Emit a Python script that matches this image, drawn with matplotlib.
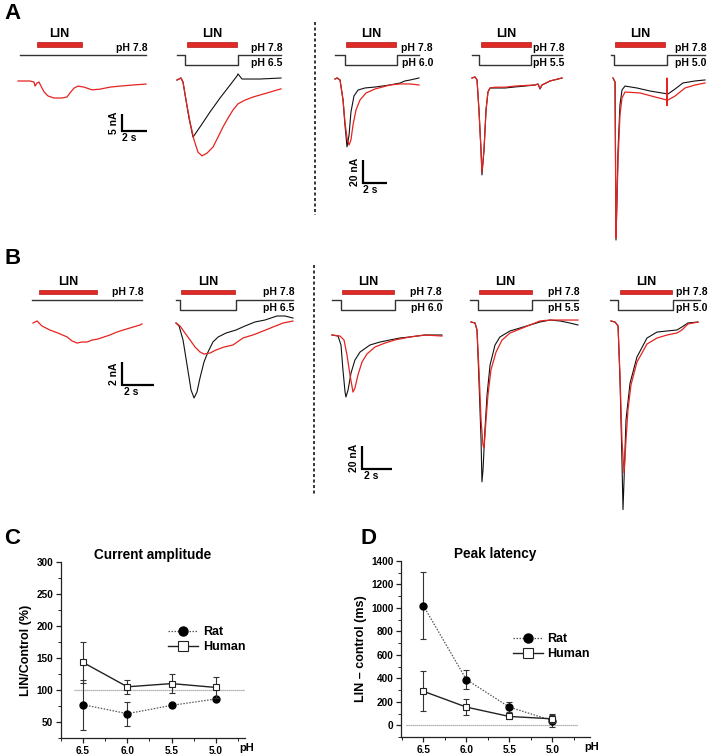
import matplotlib
matplotlib.use('Agg')
import matplotlib.pyplot as plt
from matplotlib.lines import Line2D
from matplotlib.patches import Rectangle

plt.rcParams['font.family'] = ['Liberation Sans', 'DejaVu Sans']
plt.rcParams['font.weight'] = 'bold'

W, H = 709, 755
fig = plt.figure(figsize=(W / 100, H / 100), dpi=100)

RED = '#e5231f'
BLACK = '#111111'
BAR_RED = '#e02a26'

# ===================== DATA =====================
# ---- Panel C: current amplitude (LIN/Control, %) ----
ph_levels = [6.5, 6.0, 5.5, 5.0]
ph_ticks = ['6.5', '6.0', '5.5', '5.0']
amp_rat = [77, 63, 76, 86]
amp_rat_err = [39, 19, 3, 2]
amp_human = [143, 105, 110, 104]
amp_human_err = [32, 11, 15, 17]
# ---- Panel D: peak latency (LIN - control, ms) ----
lat_rat = [1020, 390, 155, 40]
lat_rat_err = [285, 80, 40, 55]
lat_human = [290, 155, 75, 55]
lat_human_err = [170, 70, 25, 35]

# ---- Traces (time in s, current in nA) ----
# Row A (rat)
A1_red_t = [0, 0.96, 1.28, 1.36, 1.52, 1.68, 1.84, 2.08, 2.4, 2.88, 3.52, 3.92, 4.16, 4.48, 4.8, 5.28, 5.92, 6.56, 7.36, 8.16, 9.12, 10.24]
A1_red_i = [0, 0, -0.3, -1.5, -0.6, -0.3, -1.5, -3.2, -4.4, -5.0, -5.0, -4.7, -3.5, -2.1, -1.5, -1.8, -2.6, -2.4, -1.8, -1.5, -1.2, -0.9]

A2_blk_t = [0, 0.32, 0.48, 0.72, 0.96, 1.28, 1.84, 2.64, 3.44, 4.24, 4.8, 4.88, 5.2, 6.64, 8.32]
A2_blk_i = [-0.6, 0, -1.2, -6.5, -11.8, -17.4, -14.4, -10.0, -5.9, -2.1, 0.6, 1.2, -0.3, -0.3, 0]
A2_red_t = [0, 0.32, 0.48, 0.72, 1.04, 1.36, 1.68, 2.0, 2.4, 2.88, 3.28, 3.68, 4.08, 4.48, 4.88, 5.44, 6.08, 7.2, 8.32]
A2_red_i = [-0.6, 0, -1.2, -6.5, -12.9, -18.2, -21.8, -22.9, -22.1, -20.3, -17.4, -14.4, -11.8, -9.4, -7.6, -6.5, -5.6, -4.4, -3.2]

A3_blk_t = [0, 0.17, 0.42, 0.67, 0.83, 1.0, 1.17, 1.33, 1.58, 1.92, 2.5, 3.33, 4.58, 5.42, 5.83, 6.25, 7.0]
A3_blk_i = [0, 0.9, -0.9, -18.3, -40, -59, -48.7, -28.7, -14.8, -9.6, -7.8, -7.0, -5.2, -3.5, -1.7, -0.9, 0.9]
A3_red_t = [0, 0.17, 0.42, 0.67, 0.83, 1.0, 1.17, 1.33, 1.5, 1.75, 2.08, 2.58, 3.33, 4.58, 5.42, 6.25, 7.0]
A3_red_i = [0, 0.9, -0.9, -18.3, -37.4, -51.3, -57.4, -53, -40, -27, -18.3, -12.2, -8.7, -5.2, -4.3, -4.3, -5.2]

A4_t = [0, 0.25, 0.42, 0.58, 0.75, 0.83, 1.0, 1.17, 1.33, 1.5, 1.92, 2.75, 3.58, 4.42, 5.25, 5.5, 5.67, 5.83, 6.5, 7.5]
A4_blk_i = [0, 0.9, -1.7, -27.8, -62.6, -84.3, -62.6, -27.8, -12.2, -8.7, -8.7, -8.7, -7.8, -7.0, -6.1, -5.2, -9.6, -6.1, -2.6, 0]
A4_red_i = [0, 0.9, -1.7, -27.8, -62.6, -82.0, -62.6, -27.8, -12.2, -8.7, -8.0, -8.0, -7.0, -6.5, -6.1, -5.2, -9.2, -6.1, -2.6, 0]

A5_blk_t = [0, 0.17, 0.25, 0.33, 0.42, 0.58, 0.75, 1.0, 2.0, 3.08, 4.58, 5.17, 5.83, 6.83, 7.67]
A5_blk_i = [0, -3.5, -140.9, -106, -62.6, -23.5, -10.4, -7.0, -8.7, -11.3, -13.9, -9.6, -4.3, -2.6, -1.7]
A5_red_t = [0, 0.17, 0.25, 0.33, 0.42, 0.58, 0.75, 1.0, 2.25, 3.5, 4.48, 4.5, 4.5, 4.52, 5.17, 6.0, 6.83, 7.67]
A5_red_i = [0, -3.5, -139, -106, -71.3, -32.2, -17.4, -12.2, -13.0, -16.5, -19.1, 0, -24, -19.5, -15.7, -8.7, -6.1, -4.3]

# Row B (human)
B1_red_t = [0, 0.25, 0.56, 1.06, 1.56, 2.13, 2.44, 2.75, 3.06, 3.38, 3.69, 4.06, 4.44, 4.81, 5.25, 5.63, 6.06, 6.69, 6.81]
B1_red_i = [-0.09, 0.09, -0.35, -0.7, -0.96, -1.3, -1.65, -1.83, -1.74, -1.74, -1.57, -1.48, -1.3, -1.13, -0.87, -0.7, -0.52, -0.26, -0.17]

B2_blk_t = [0, 0.19, 0.44, 0.69, 0.94, 1.13, 1.31, 1.5, 1.75, 2.0, 2.31, 2.63, 3.13, 3.75, 4.31, 4.94, 5.56, 6.31, 6.81, 7.31]
B2_blk_i = [0, -0.26, -1.48, -3.65, -5.83, -6.52, -6.0, -4.78, -3.39, -2.52, -1.65, -1.22, -0.87, -0.61, -0.26, 0.09, 0.26, 0.61, 0.61, 0.43]
B2_red_t = [0, 0.25, 0.56, 0.88, 1.19, 1.5, 1.75, 2.13, 2.5, 3.0, 3.56, 4.19, 4.81, 5.44, 6.06, 6.69, 7.31]
B2_red_i = [0, -0.26, -0.87, -1.48, -2.09, -2.52, -2.7, -2.61, -2.35, -2.09, -1.91, -1.3, -1.04, -0.7, -0.35, 0, 0.17]

B3_blk_t = [0, 0.4, 0.6, 0.73, 0.87, 0.93, 1.07, 1.27, 1.53, 1.87, 2.53, 3.2, 3.87, 4.53, 5.2, 6.2, 7.33]
B3_blk_i = [0, -0.9, -8.7, -30.4, -49.6, -53.9, -47.8, -33, -21.7, -14.8, -8.7, -6.1, -4.3, -2.6, -1.7, 0, 0]
B3_red_t = [0, 0.53, 0.8, 1.0, 1.2, 1.4, 1.53, 1.73, 2.0, 2.33, 2.87, 3.53, 4.2, 5.2, 6.2, 7.33]
B3_red_i = [0, -0.9, -4.3, -17.4, -34.8, -49.6, -46.1, -34.8, -23.5, -16.5, -10.4, -7.0, -4.3, -1.7, 0, -0.9]

B4_blk_t = [0, 0.27, 0.4, 0.53, 0.67, 0.73, 0.8, 0.93, 1.07, 1.27, 1.6, 1.93, 2.6, 3.27, 3.93, 4.6, 5.27, 5.93, 6.6, 7.13]
B4_blk_i = [0, -0.9, -7.0, -50.4, -102.6, -139, -128.7, -93.9, -63.5, -37.4, -20, -13, -7.8, -5.2, -2.6, 0, 1.7, 0.9, -0.9, -2.6]
B4_red_t = [0, 0.27, 0.4, 0.53, 0.67, 0.8, 0.87, 1.0, 1.13, 1.33, 1.67, 2.07, 2.6, 3.27, 3.93, 4.6, 5.27, 6.27, 7.13]
B4_red_i = [0, -0.9, -7.0, -41.7, -85.2, -107, -109.6, -85.2, -63.5, -41.7, -26.1, -15.7, -9.6, -6.1, -2.6, 0.9, 1.7, 1.7, 1.7]

B5_blk_t = [0, 0.27, 0.47, 0.6, 0.73, 0.8, 0.87, 1.0, 1.27, 1.73, 2.4, 3.07, 3.73, 4.4, 4.73, 5.13, 5.8]
B5_blk_i = [0, -0.9, -4.3, -51.3, -121, -164, -138, -86, -54, -31.3, -14.8, -9.6, -8.7, -7.8, -5.2, -1.7, -0.9]
B5_red_t = [0, 0.27, 0.47, 0.6, 0.73, 0.87, 1.0, 1.13, 1.33, 1.73, 2.4, 3.07, 3.73, 4.4, 4.73, 5.13, 5.8]
B5_red_i = [0, -0.9, -4.3, -47, -103.5, -132, -103.5, -77.4, -55.7, -35.7, -20, -14.8, -12.2, -10.4, -7.8, -2.6, -0.9]

# Protocols: LIN application (on, off) and pH steps (start, step down, step up, end), in s
A1_lin, A1_ph = (1.52, 5.12), (0.16, None, None, 10.24)
A2_lin, A2_ph = (0.8, 4.8), (0, 0.64, 4.88, 8.32)
A3_lin, A3_ph = (0.92, 5.08), (0, 0.83, 5.17, 7.0)
A4_lin, A4_ph = (0.75, 4.92), (0, 0.58, 4.92, 7.5)
A5_lin, A5_ph = (0.17, 4.33), (-0.17, 0.08, 4.5, 7.67)
B1_lin, B1_ph = (0.38, 4.0), (-0.06, None, None, 6.81)
B2_lin, B2_ph = (0.31, 3.69), (0, 0.25, 3.75, 7.31)
B3_lin, B3_ph = (0.67, 4.13), (0, 0.6, 4.2, 7.33)
B4_lin, B4_ph = (0.53, 4.07), (-0.07, 0.47, 4.07, 7.13)
B5_lin, B5_ph = (0.6, 4.07), (-0.07, 0.47, 4.13, 5.93)
test_ph = [None, '6.5', '6.0', '5.5', '5.0']


# ===================== LAYOUT HELPERS =====================
def trace_ax(x0, ybase, pps, ppn, tlim, ilim):
    left = (x0 + tlim[0] * pps) / W
    width = (tlim[1] - tlim[0]) * pps / W
    top_px = ybase - ilim[1] * ppn
    bot_px = ybase - ilim[0] * ppn
    ax = fig.add_axes([left, 1 - bot_px / H, width, (bot_px - top_px) / H])
    ax.set_xlim(tlim)
    ax.set_ylim(ilim)
    ax.axis('off')
    return ax


def proto_ax(x0, pps, tlim, ytop, ybot):
    ax = fig.add_axes([(x0 + tlim[0] * pps) / W, 1 - ybot / H,
                       (tlim[1] - tlim[0]) * pps / W, (ybot - ytop) / H])
    ax.set_xlim(tlim)
    ax.set_ylim(0, 1)
    ax.axis('off')
    return ax


def draw_panel(x0, ybase, pps, ppn, traces, lin, ph, test, row, txt_shift=0.0):
    ytop, ybot, lv_lin, lv_hi, lv_lo, lv_lintxt, lv_hitxt, lv_lotxt = row
    tmin = min([min(t) for t, _, _ in traces] + [ph[0]])
    tmax = max([max(t) for t, _, _ in traces] + [ph[3]])
    imin = min(min(i) for _, i, _ in traces)
    imax = max(max(i) for _, i, _ in traces)
    tl = (tmin - 0.2, tmax + 0.2)
    ax = trace_ax(x0, ybase, pps, ppn, tl, (imin - 2, imax + 2))
    for t, i, c in traces:
        lw = 0.9 if c == RED else 0.8
        ax.plot(t, i, color=c, lw=lw, solid_joinstyle='round')
    pa = proto_ax(x0, pps, tl, ytop, ybot)
    h = 0.055
    pa.add_patch(Rectangle((lin[0], lv_lin - h), lin[1] - lin[0], 2 * h,
                           facecolor=BAR_RED, edgecolor='#b01818', lw=0.5))
    pa.text((lin[0] + lin[1]) / 2, lv_lintxt, 'LIN', ha='center', va='center',
            fontsize=9, fontweight='bold', clip_on=False)
    if ph[1] is None:
        pa.plot([ph[0], ph[3]], [lv_hi, lv_hi], color='#333333', lw=1.0)
    else:
        pa.plot([ph[0], ph[1], ph[1], ph[2], ph[2], ph[3]],
                [lv_hi, lv_hi, lv_lo, lv_lo, lv_hi, lv_hi], color='#333333', lw=1.0)
        pa.annotate('pH ' + test, xy=(ph[3], lv_lotxt), xytext=(1.0 + txt_shift, 0),
                    textcoords='offset points', ha='right', va='center', fontsize=7.5,
                    fontweight='bold', annotation_clip=False)
    pa.annotate('pH 7.8', xy=(ph[3], lv_hitxt), xytext=(1.0 + txt_shift, 0), textcoords='offset points',
                ha='right', va='center', fontsize=7.5, fontweight='bold', annotation_clip=False)
    return ax


def scalebar(ax, t0, i0, tlen, ilen, tlab, ilab):
    ax.plot([t0, t0, t0 + tlen], [i0 + ilen, i0, i0], color='k', lw=1.6,
            clip_on=False, solid_joinstyle='miter', solid_capstyle='butt')
    ax.annotate(ilab, xy=(t0, i0 + ilen / 2), xytext=(-2, 0), textcoords='offset points',
                rotation=90, ha='right', va='center', fontsize=7.5, fontweight='bold',
                annotation_clip=False)
    ax.annotate(tlab, xy=(t0 + tlen * 0.3, i0), xytext=(0, -1.5), textcoords='offset points',
                ha='center', va='top', fontsize=7.5, fontweight='bold', annotation_clip=False)


ROW_A = (26, 70, 0.58, 0.34, 0.11, 0.82, 0.50, 0.17)
ROW_B = (272, 316, 0.545, 0.36, 0.14, 0.77, 0.545, 0.18)

# ---- Row A ----
axA1 = draw_panel(18, 81, 12.5, 3.4, [(A1_red_t, A1_red_i, RED)], A1_lin, A1_ph, None, ROW_A)
scalebar(axA1, 8.32, -14.7, 2, 5, '2 s', '5 nA')
draw_panel(177, 78, 12.5, 3.4, [(A2_blk_t, A2_blk_i, BLACK), (A2_red_t, A2_red_i, RED)],
           A2_lin, A2_ph, test_ph[1], ROW_A)
axA3 = draw_panel(335, 79, 12, 1.15, [(A3_blk_t, A3_blk_i, BLACK), (A3_red_t, A3_red_i, RED)],
                  A3_lin, A3_ph, test_ph[2], ROW_A, txt_shift=9)
scalebar(axA3, 2.33, -90.4, 2, 20, '2 s', '20 nA')
draw_panel(472, 78, 12, 1.15, [(A4_t, A4_blk_i, BLACK), (A4_t, A4_red_i, RED)],
           A4_lin, A4_ph, test_ph[3], ROW_A, txt_shift=1)
draw_panel(613, 78, 12, 1.15, [(A5_blk_t, A5_blk_i, BLACK), (A5_red_t, A5_red_i, RED)],
           A5_lin, A5_ph, test_ph[4], ROW_A)

# ---- Row B ----
axB1 = draw_panel(33, 322, 16, 11.5, [(B1_red_t, B1_red_i, RED)], B1_lin, B1_ph, None, ROW_B)
scalebar(axB1, 5.56, -5.48, 2, 2, '2 s', '2 nA')
draw_panel(176, 323, 16, 11.5, [(B2_blk_t, B2_blk_i, BLACK), (B2_red_t, B2_red_i, RED)],
           B2_lin, B2_ph, test_ph[1], ROW_B)
axB3 = draw_panel(332, 335, 15, 1.15, [(B3_blk_t, B3_blk_i, BLACK), (B3_red_t, B3_red_i, RED)],
                  B3_lin, B3_ph, test_ph[2], ROW_B, txt_shift=-1)
scalebar(axB3, 2.0, -116.5, 2, 20, '2 s', '20 nA')
draw_panel(471, 322, 15, 1.15, [(B4_blk_t, B4_blk_i, BLACK), (B4_red_t, B4_red_i, RED)],
           B4_lin, B4_ph, test_ph[3], ROW_B)
draw_panel(611, 321, 15, 1.15, [(B5_blk_t, B5_blk_i, BLACK), (B5_red_t, B5_red_i, RED)],
           B5_lin, B5_ph, test_ph[4], ROW_B, txt_shift=4.5)

# dashed separators
for xs, y0, y1 in [(315, 22, 215), (314, 265, 495)]:
    fig.add_artist(Line2D([xs / W, xs / W], [1 - y0 / H, 1 - y1 / H], color='k',
                          lw=1.1, linestyle=(0, (2.0, 1.6))))

# panel letters
for lab, x, y in [('A', 4, 3), ('B', 4, 248), ('C', 4, 528), ('D', 360, 528)]:
    fig.text(x / W, 1 - y / H, lab, fontsize=16, fontweight='bold', ha='left', va='top')


# ===================== C & D =====================
def summary_ax(rect, ylim, xlim, ymaj, ymin_step, title, ylabel, rat, rat_e, hum, hum_e, ref, refx,
               leg_anchor):
    ax = fig.add_axes(rect)
    ax.set_xlim(xlim)
    ax.set_ylim(ylim)
    for s in ['top', 'right']:
        ax.spines[s].set_visible(False)
    for s in ['left', 'bottom']:
        ax.spines[s].set_linewidth(0.9)
        ax.spines[s].set_color('#222222')
    ax.set_xticks(ph_levels)
    ax.set_xticklabels(ph_ticks)
    ax.set_xticks([6.75, 6.25, 5.75, 5.25, 4.75], minor=True)
    ax.set_yticks(ymaj)
    ax.set_yticks([v for v in range(int(ylim[0]), int(ylim[1]) + 1, ymin_step) if v not in ymaj],
                  minor=True)
    ax.tick_params(which='major', length=3.5, width=0.9, labelsize=7.2, pad=2, color='#222222')
    ax.tick_params(which='minor', length=2, width=0.7, color='#222222')
    ax.plot(refx, [ref, ref], color='#9a9a9a', lw=0.9, linestyle=(0, (1, 0.6)), zorder=1)
    ax.errorbar(ph_levels, rat, yerr=rat_e, color='#555555', lw=0.9, linestyle=(0, (1.2, 1.2)),
                marker='o', markersize=5, mfc='k', mec='k', ecolor='#333333', elinewidth=0.8,
                capsize=2.3, capthick=0.8, label='Rat', zorder=3)
    ax.errorbar(ph_levels, hum, yerr=hum_e, color='#222222', lw=1.0, linestyle='-',
                marker='s', markersize=5, mfc='white', mec='#222222', mew=0.8, ecolor='#333333',
                elinewidth=0.8, capsize=2.3, capthick=0.8, label='Human', zorder=4)
    ax.set_title(title, fontsize=9.8, fontweight='bold', pad=-1.5)
    ax.set_ylabel(ylabel, fontsize=9, fontweight='bold', labelpad=3)
    ax.annotate('pH', xy=(1.0, 0), xycoords='axes fraction', xytext=(1, -7.3),
                textcoords='offset points', ha='center', va='center', fontsize=8, fontweight='bold')
    handles, labels = ax.get_legend_handles_labels()
    handles = [h[0] for h in handles]
    ax.legend(handles, labels, loc='upper left', bbox_to_anchor=leg_anchor, frameon=False,
              fontsize=9, handlelength=2.4, handletextpad=0.4, labelspacing=0.25,
              borderaxespad=0, borderpad=0, markerscale=1.3)
    return ax


summary_ax([61 / W, 1 - 738 / H, 184 / W, 176 / H], (25, 300), (6.71, 4.67),
           [50, 100, 150, 200, 250, 300], 25, 'Current amplitude', 'LIN/Control (%)',
           amp_rat, amp_rat_err, amp_human, amp_human_err, 100, [6.6, 4.67], (0.58, 0.635))
summary_ax([401 / W, 1 - 737 / H, 189 / W, 176 / H], (-100, 1400), (6.76, 4.56),
           [0, 200, 400, 600, 800, 1000, 1200, 1400], 100, 'Peak latency', 'LIN \u2013 control (ms)',
           lat_rat, lat_rat_err, lat_human, lat_human_err, 0, [6.7, 4.7], (0.59, 0.59))

fig.savefig('out.png', dpi=100)
